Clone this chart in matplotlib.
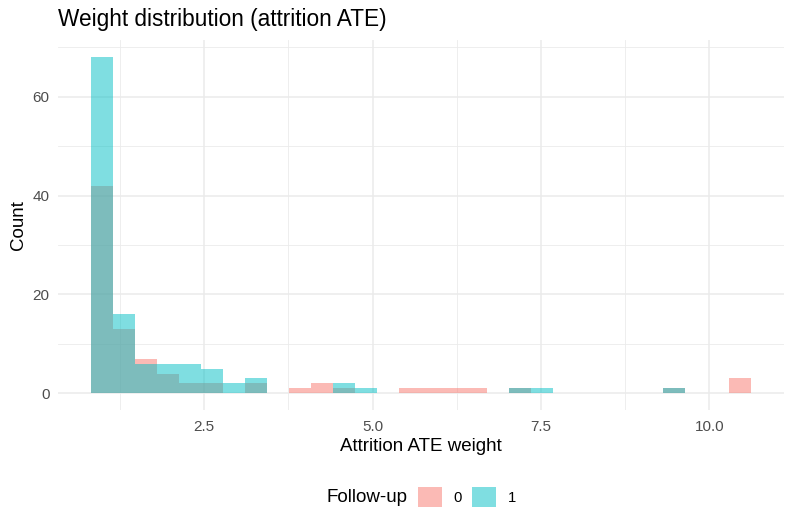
import numpy as np
import matplotlib.pyplot as plt
from matplotlib.ticker import FixedLocator

plt.rcParams["font.family"] = ["Liberation Sans", "DejaVu Sans"]

# ---- data: 30-bin histogram of attrition ATE weights ----
WEIGHT_MIN = 0.98
WEIGHT_MAX = 10.45
N_BINS = 30
GROUPS = ["0", "1"]
counts_0 = [42, 13, 7, 4, 2, 2, 0, 2, 0, 1, 2, 1, 0, 0, 1, 1, 1, 1, 0, 1,
            0, 0, 0, 0, 0, 0, 1, 0, 0, 3]
counts_1 = [68, 16, 6, 6, 6, 5, 2, 3, 0, 0, 0, 2, 1, 0, 0, 0, 0, 0, 0, 1,
            1, 0, 0, 0, 0, 0, 1, 0, 0, 0]
COLORS = ["#F8766D", "#00BFC4"]

# ggplot-style binning: width = range / (bins - 1), centred on the min
bin_width = (WEIGHT_MAX - WEIGHT_MIN) / (N_BINS - 1)
centers = WEIGHT_MIN + bin_width * np.arange(N_BINS)

fig = plt.figure(figsize=(7.93, 5.29), dpi=100)
ax = fig.add_axes([0.0728, 0.2248, 0.9154, 0.6989])

bars = []
for counts, color, label in zip([counts_0, counts_1], COLORS, GROUPS):
    b = ax.bar(centers, counts, width=bin_width, color=color, alpha=0.5,
               linewidth=0, label=label, zorder=2)
    bars.append(b)

# limits with 5% expansion, like ggplot
x_lo = centers[0] - bin_width / 2
x_hi = centers[-1] + bin_width / 2
pad_x = 0.05 * (x_hi - x_lo)
ax.set_xlim(x_lo - pad_x, x_hi + pad_x)
y_max = max(max(counts_0), max(counts_1))
ax.set_ylim(-0.05 * y_max, 1.05 * y_max)

ax.set_xticks([2.5, 5.0, 7.5, 10.0])
ax.set_xticklabels(["2.5", "5.0", "7.5", "10.0"])
ax.xaxis.set_minor_locator(FixedLocator([1.25, 3.75, 6.25, 8.75]))
ax.set_yticks([0, 20, 40, 60])
ax.yaxis.set_minor_locator(FixedLocator([10, 30, 50, 70]))

ax.grid(which="major", color="#EBEBEB", linewidth=1.1, zorder=0)
ax.grid(which="minor", color="#EBEBEB", linewidth=0.6, zorder=0)
ax.set_axisbelow(True)
for s in ax.spines.values():
    s.set_visible(False)
ax.tick_params(which="both", length=0)
ax.tick_params(axis="x", labelsize=11, labelcolor="#4D4D4D", pad=7)
ax.tick_params(axis="y", labelsize=11, labelcolor="#4D4D4D", pad=6)

ax.set_xlabel("Attrition ATE weight", fontsize=13.5, labelpad=3)
ax.set_ylabel("Count", fontsize=13.5, labelpad=4)
ax.set_title("Weight distribution (attrition ATE)", fontsize=16.3, loc="left",
             pad=10)

# legend at the bottom, title to the left of the keys
fig.text(327 / 793, 1 - 497 / 529, "Follow-up", fontsize=13.5,
         ha="left", va="center")
leg = fig.legend(handles=bars, labels=GROUPS, ncol=2, frameon=False,
                 loc="center", bbox_to_anchor=(467 / 793, 1 - 497 / 529),
                 fontsize=10.7, handlelength=1.6, handleheight=1.6,
                 handletextpad=0.8, columnspacing=0.7, borderpad=0,
                 borderaxespad=0)

fig.savefig("out.png", dpi=100)
